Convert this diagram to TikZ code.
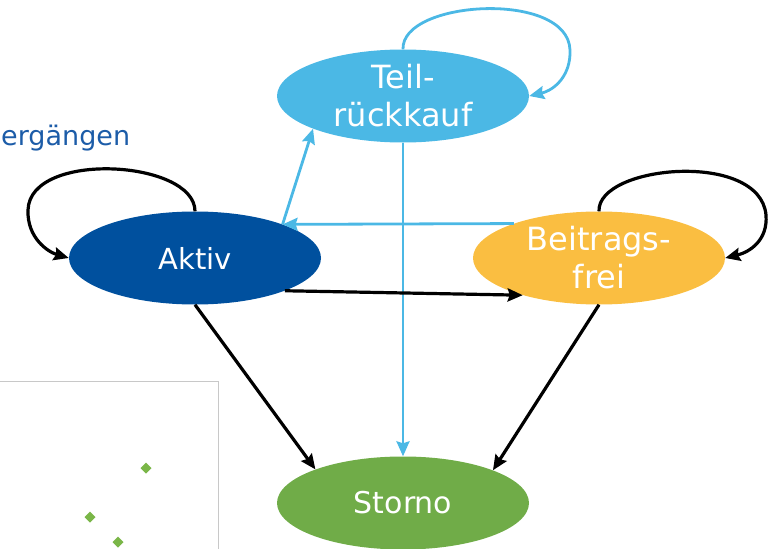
\documentclass[tikz,border=0pt]{standalone}
\usepackage{fontspec}
\setmainfont{DejaVu Sans}
\usepackage{tikz}
\usetikzlibrary{arrows.meta}
\usetikzlibrary{shapes.geometric}
\definecolor{Aktivblue}{RGB}{0,80,158}
\definecolor{Teilblue}{RGB}{75,184,229}
\definecolor{Freiorange}{RGB}{250,190,65}
\definecolor{Stornogreen}{RGB}{112,172,72}
\definecolor{Titleblue}{RGB}{28,92,168}
\definecolor{Frame}{RGB}{200,200,200}
\definecolor{Marker}{RGB}{122,182,72}
\tikzset{
  % states of the contract
  zustand/.style={
    ellipse,fill=#1,text=white,inner sep=0pt,
    minimum width=252pt,minimum height=93pt,align=center,
  },
  zweizeilig/.style={inner ysep=-4pt,font=\fontsize{32}{38}\selectfont},
  % transitions, black ones by default
  every edge/.append style={
    line width=3.2pt,-{Stealth[length=15pt,width=13pt,inset=2pt]},
  },
  blauweg/.style={draw=Teilblue,line width=2.8pt},
  schleife/.style={draw,line width=3.2pt,-{Stealth[length=15pt,width=13pt,inset=2pt]}},
  % leftover of the chart beside the diagram
  rahmen/.style={draw=Frame,line width=1pt},
}

\begin{document}
\begin{tikzpicture}[x=1pt,y=-1pt]
  \useasboundingbox (0,0) rectangle (772,549);

  \draw[rahmen] (-2,381) -| (218,552);
  \foreach \p in {(146,468),(90,517),(118,542)}
    \fill[Marker] \p +(-5.5,0) -- +(0,-5.5) -- +(5.5,0) -- +(0,5.5) -- cycle;

  \node[anchor=base west,text=Titleblue,font=\fontsize{27}{32}\selectfont,inner sep=0pt]
    (titel) at (1,145) {ergängen};

  \node[zustand=Aktivblue,font=\fontsize{29}{34}\selectfont] (aktiv) at (195,258) {Aktiv};
  \node[zustand=Teilblue,zweizeilig] (teil) at (403,96) {Teil-\\rückkauf};
  \node[zustand=Freiorange,zweizeilig] (frei) at (599,258) {Beitrags-\\frei};
  \node[zustand=Stornogreen,font=\fontsize{30}{34}\selectfont] (storno) at (403,503) {Storno};

  \path
  (aktiv.21) edge[blauweg] (teil.200)
  (frei.158) edge[blauweg] (aktiv.21)
  (teil) edge[blauweg] (storno)
  (aktiv.-20) edge (frei.206)
  (aktiv.south) edge (storno.159)
  (frei.south) edge (storno.20)
  ;

  % self loops
  \draw[schleife] (aktiv.north) .. controls (195,160) and (30,150) .. (28,210)
    .. controls (27,238) and (48,252) .. (aktiv.west);
  \draw[schleife,blauweg] (teil.north) .. controls (401,0) and (568,-10) .. (570,50)
    .. controls (571,75) and (555,90) .. (teil.east);
  \draw[schleife] (frei.north) .. controls (597,165) and (760,150) .. (766,215)
    .. controls (768,240) and (750,252) .. (frei.east);
\end{tikzpicture}
\end{document}
